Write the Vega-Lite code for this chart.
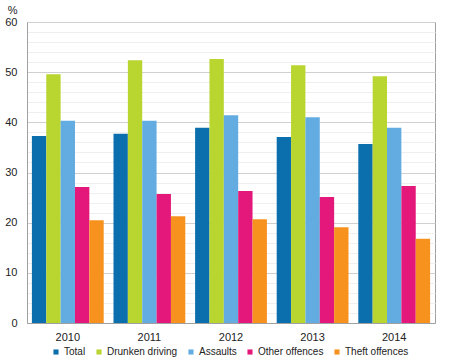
{
  "$schema": "https://vega.github.io/schema/vega-lite/v6.json",
  "width": 408,
  "height": 301,
  "autosize": {"type": "none"},
  "padding": {"left": 27, "top": 22, "right": 15, "bottom": 40},
  "config": {
    "font": "Liberation Sans",
    "view": {"stroke": "#a0a0a0", "strokeWidth": 1},
    "axis": {"labelFont": "Liberation Sans", "labelColor": "#222", "labelFontSize": 11}
  },
  "data": {
    "values": [
      {"year": "2010", "cat": "Total", "v": 37.3},
      {"year": "2010", "cat": "Drunken driving", "v": 49.6},
      {"year": "2010", "cat": "Assaults", "v": 40.3},
      {"year": "2010", "cat": "Other offences", "v": 27.1},
      {"year": "2010", "cat": "Theft offences", "v": 20.5},
      {"year": "2011", "cat": "Total", "v": 37.7},
      {"year": "2011", "cat": "Drunken driving", "v": 52.4},
      {"year": "2011", "cat": "Assaults", "v": 40.3},
      {"year": "2011", "cat": "Other offences", "v": 25.7},
      {"year": "2011", "cat": "Theft offences", "v": 21.3},
      {"year": "2012", "cat": "Total", "v": 38.9},
      {"year": "2012", "cat": "Drunken driving", "v": 52.6},
      {"year": "2012", "cat": "Assaults", "v": 41.4},
      {"year": "2012", "cat": "Other offences", "v": 26.3},
      {"year": "2012", "cat": "Theft offences", "v": 20.7},
      {"year": "2013", "cat": "Total", "v": 37.1},
      {"year": "2013", "cat": "Drunken driving", "v": 51.4},
      {"year": "2013", "cat": "Assaults", "v": 41.0},
      {"year": "2013", "cat": "Other offences", "v": 25.1},
      {"year": "2013", "cat": "Theft offences", "v": 19.1},
      {"year": "2014", "cat": "Total", "v": 35.7},
      {"year": "2014", "cat": "Drunken driving", "v": 49.2},
      {"year": "2014", "cat": "Assaults", "v": 38.9},
      {"year": "2014", "cat": "Other offences", "v": 27.3},
      {"year": "2014", "cat": "Theft offences", "v": 16.8}
    ]
  },
  "mark": {"type": "bar"},
  "encoding": {
    "x": {
      "field": "year", "type": "nominal",
      "scale": {"paddingInner": 0.12, "paddingOuter": 0.06},
      "axis": {"title": null, "labelAngle": 0, "ticks": false, "labelPadding": 8, "domainColor": "#a0a0a0", "labelFontSize": 11}
    },
    "xOffset": {
      "field": "cat", "type": "nominal",
      "sort": ["Total", "Drunken driving", "Assaults", "Other offences", "Theft offences"]
    },
    "y": {
      "field": "v", "type": "quantitative",
      "scale": {"domain": [0, 60], "nice": false},
      "axis": {
        "title": "%", "titleAngle": 0, "titleX": -10, "titleY": -7, "titleAlign": "right", "titleBaseline": "bottom",
        "titleFont": "Liberation Sans", "titleFontSize": 11, "titleFontWeight": "normal", "titleColor": "#222",
        "values": [0,2,4,6,8,10,12,14,16,18,20,22,24,26,28,30,32,34,36,38,40,42,44,46,48,50,52,54,56,58,60],
        "labelExpr": "datum.value % 10 === 0 ? datum.label : ''",
        "ticks": false, "labelPadding": 10, "domainColor": "#a0a0a0",
        "gridColor": {"condition": {"test": "datum.value % 10 === 0", "value": "#d0d0d0"}, "value": "#efefef"}
      }
    },
    "color": {
      "field": "cat", "type": "nominal",
      "sort": ["Total", "Drunken driving", "Assaults", "Other offences", "Theft offences"],
      "scale": {
        "domain": ["Total", "Drunken driving", "Assaults", "Other offences", "Theft offences"],
        "range": ["#0b6fae", "#b8d530", "#62ace2", "#e4177a", "#f7921e"]
      },
      "legend": {
        "title": null, "orient": "none", "legendX": 24, "legendY": 325, "direction": "horizontal",
        "symbolType": "square", "symbolSize": 26, "symbolStrokeWidth": 0,
        "labelFont": "Liberation Sans", "labelFontSize": 10, "labelColor": "#222", "labelOffset": 3, "columnPadding": 8
      }
    }
  }
}
